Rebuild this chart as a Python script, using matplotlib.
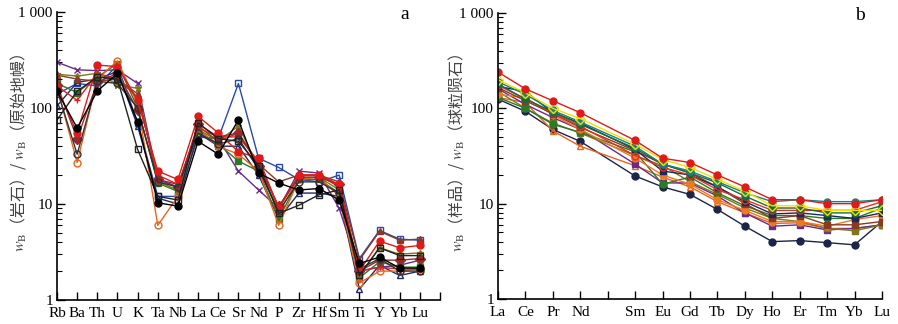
import numpy as np
import matplotlib
matplotlib.use('Agg')
from matplotlib import pyplot as plt
from matplotlib.ticker import FixedLocator, NullFormatter

plt.rcParams['font.family'] = ['Liberation Serif', 'DejaVu Serif']
plt.rcParams['mathtext.fontset'] = 'stix'

# ---- panel a: primitive-mantle normalised spider diagram ----
spider_elems = ['Rb', 'Ba', 'Th', 'U', 'K', 'Ta', 'Nb', 'La', 'Ce', 'Sr',
                'Nd', 'P', 'Zr', 'Hf', 'Sm', 'Ti', 'Y', 'Yb', 'Lu']

a_purple = [300, 250, 245, 250, 180, 18, 16, 50, 48, 22, 14, 9, 22, 21, 9, 2.0, 2.2, 2.3, 2.6]
a_blue = [140, 180, 170, 280, 70, 12, 12, 50, 48, 180, 30, 24, 18, 17, 20, 2.7, 5.3, 4.3, 4.2]
a_black = [150, 62, 150, 230, 72, 10.3, 9.5, 45, 33, 75, 21, 16.5, 14, 14.5, 11, 2.4, 2.8, 2.15, 2.15]
a_red = [160, 55, 280, 270, 120, 22, 18, 82, 55, 35, 30, 9, 20, 20, 16, 2.0, 4.1, 3.5, 3.7]
a_orange = [165, 27, 200, 310, 110, 6, 12, 60, 40, 33, 22, 6, 18, 19, 12, 1.5, 2.0, 2.0, 2.1]
a_blacksq = [75, 150, 210, 200, 37, 12, 11, 70, 48, 45, 25, 8, 9.7, 12.5, 14, 1.8, 3.5, 2.9, 2.9]
a_brown = [220, 200, 190, 200, 140, 18, 15, 65, 45, 55, 26, 17, 20, 20, 17, 2.6, 5.2, 4.2, 4.3]
a_olive = [225, 215, 230, 175, 160, 17, 14, 60, 45, 65, 24, 8, 19, 19, 14, 1.8, 3.5, 3.0, 3.1]
a_green = [180, 145, 210, 290, 100, 16.5, 13.5, 58, 42, 28, 22, 7, 18, 18, 13, 1.7, 2.5, 2.2, 2.2]
a_navy = [105, 185, 200, 240, 65, 11.5, 10, 55, 40, 40, 20, 7, 13, 13, 12, 1.3, 2.3, 1.8, 2.0]
a_redplus = [170, 120, 230, 200, 130, 20, 16, 62, 50, 50, 28, 9, 20, 20, 15, 2.0, 2.2, 2.1, 2.1]
a_darkred = [175, 48, 185, 230, 95, 18, 15, 68, 50, 55, 25, 9.5, 19, 19, 16, 2.0, 2.6, 2.6, 2.7]
a_blackopen = [155, 33, 190, 180, 100, 17, 15, 55, 42, 48, 23, 8.5, 17, 17, 13, 2.1, 2.7, 2.0, 2.0]

# ---- panel b: chondrite-normalised REE ----
ree_elems = ['La', 'Ce', 'Pr', 'Nd', '', 'Sm', 'Eu', 'Gd', 'Tb', 'Dy', 'Ho', 'Er', 'Tm', 'Yb', 'Lu']
ree_pos = [0, 1, 2, 3, 5, 6, 7, 8, 9, 10, 11, 12, 13, 14]

b_red = [240, 160, 120, 90, 46, 30, 27, 20, 15, 11, 11, 10, 10, 11]
b_yellow = [200, 145, 100, 78, 42, 29, 24, 18, 13.5, 9.5, 9.5, 8.5, 8.5, 8.5]
b_navy = [125, 93, 60, 45, 19.5, 15, 12.5, 8.7, 5.8, 4.0, 4.1, 3.9, 3.7, 6.5]
b_teal = [190, 140, 95, 72, 40, 26, 22, 17, 13, 10.5, 11, 10.5, 10.5, 11]
b_orange = [130, 115, 58, 40, 25, 19, 15, 10.5, 8, 6.2, 6.3, 5.5, 5.5, 6]
b_purple = [160, 110, 80, 60, 26, 16.5, 16.5, 12, 8, 5.8, 6, 5.3, 5.5, 6]
b_olive = [150, 100, 70, 55, 32, 25, 17, 12.5, 9, 7, 6.5, 5.5, 5.2, 6]
b_green = [130, 100, 68, 56, 35, 16, 19, 13, 9.5, 7.5, 7.5, 7, 7, 9]
b_darkblue = [170, 150, 90, 70, 37, 22, 20, 15, 10.5, 7.8, 8, 7.5, 7, 8]
b_redorange = [175, 125, 90, 65, 32, 24, 20, 14, 11, 8.5, 8.5, 8.5, 8.5, 10.5]
b_brown = [165, 120, 88, 63, 36, 26, 21, 15, 10, 7, 7.5, 6, 6, 6.5]
b_orange2 = [140, 130, 85, 60, 30, 20, 16, 11, 8.5, 6.5, 6.5, 5.8, 6.8, 7.5]
b_dkgreen = [180, 125, 92, 68, 38, 26, 21, 16.5, 12, 9, 9, 8, 8, 9.5]

a_series = [
    (a_purple, '#6a2a8c', 'x', 'none'),
    (a_blue, '#2a4aa8', 's', 'none'),
    (a_navy, '#1f2a6a', '^', 'none'),
    (a_green, '#2a7a2a', 's', 'full'),
    (a_orange, '#e8641c', 'o', 'none'),
    (a_olive, '#7a7a1a', '*', 'full'),
    (a_brown, '#8a3a22', '^', 'full'),
    (a_redplus, '#e02020', '+', 'none'),
    (a_darkred, '#9a2a2a', 'D', 'full'),
    (a_blackopen, '#333333', 'o', 'none'),
    (a_red, '#e01a1a', 'o', 'full'),
    (a_blacksq, '#222222', 's', 'none'),
    (a_black, '#000000', 'o', 'full'),
]

b_series = [
    (b_navy, '#1c2448', 'o', 'full'),
    (b_orange, '#e8641c', '^', 'none'),
    (b_purple, '#6a2a8c', 's', 'full'),
    (b_olive, '#7a7a1a', 's', 'full'),
    (b_green, '#2a7a2a', 'o', 'full'),
    (b_orange2, '#f07820', 'o', 'full'),
    (b_brown, '#8a3a22', 's', 'full'),
    (b_darkblue, '#1a2a5a', 's', 'full'),
    (b_redorange, '#e83020', 'o', 'none'),
    (b_dkgreen, '#1a6a3a', 'o', 'full'),
    (b_teal, '#1a8080', 'o', 'full'),
    (b_yellow, '#f0e000', 'D', 'none'),
    (b_red, '#e01a1a', 'o', 'full'),
]

fig = plt.figure(figsize=(8.98, 3.24), dpi=100)
ax1 = fig.add_axes([57 / 898, 1 - 300 / 324, 383 / 898, 288 / 324])
ax2 = fig.add_axes([498 / 898, 1 - 299 / 324, 384 / 898, 286 / 324])

xa = np.arange(len(spider_elems))
for vals, c, m, fill in a_series:
    mfc = c if fill == 'full' else 'none'
    ax1.plot(xa, vals, color=c, marker=m, ms=5, mfc=mfc, mec=c, lw=1.0, mew=1.0)

for vals, c, m, fill in b_series:
    mfc = c if fill == 'full' else 'none'
    ax2.plot(ree_pos, vals, color=c, marker=m, ms=5, mfc=mfc, mec=c, lw=1.0, mew=1.0)


def style(ax, nticks, labels, letter, lx):
    ax.set_yscale('log')
    ax.set_ylim(1, 1000)
    ax.set_xlim(0, nticks - 1)
    for s in ['top', 'right']:
        ax.spines[s].set_visible(False)
    ax.spines['left'].set_linewidth(1.2)
    ax.spines['bottom'].set_linewidth(1.2)
    ax.set_xticks(range(nticks))
    ax.set_xticklabels(labels, fontsize=11)
    ax.set_yticks([1, 10, 100, 1000])
    ax.set_yticklabels(['1', '10', '100', '1 000'], fontsize=11)
    ax.yaxis.set_minor_locator(FixedLocator(
        [k * 10 ** e for e in range(0, 3) for k in range(2, 10)]))
    ax.yaxis.set_minor_formatter(NullFormatter())
    ax.tick_params(axis='both', which='major', direction='in', length=6, width=1.0, pad=3)
    ax.tick_params(axis='x', which='major', pad=5)
    ax.tick_params(axis='y', which='minor', direction='in', length=3.5, width=0.8)
    ax.text(lx, 0.99, letter, transform=ax.transAxes, fontsize=14, ha='center', va='center')


style(ax1, 20, spider_elems + [''], 'a', 0.909)
style(ax2, 15, ree_elems, 'b', 0.943)

cjk = ['Noto Sans CJK SC', 'DejaVu Sans']
ax1.set_ylabel(r'$w_\mathrm{B}$（岩石）/ $w_\mathrm{B}$（原始地幔）', family=cjk,
               fontsize=11.5, color='#444444')
ax2.set_ylabel(r'$w_\mathrm{B}$（样品）/ $w_\mathrm{B}$（球粒陨石）', family=cjk,
               fontsize=11.5, color='#444444')
ax1.yaxis.set_label_coords(-0.075, 0.51)
ax2.yaxis.set_label_coords(-0.083, 0.51)

fig.savefig('out.png', dpi=100)
